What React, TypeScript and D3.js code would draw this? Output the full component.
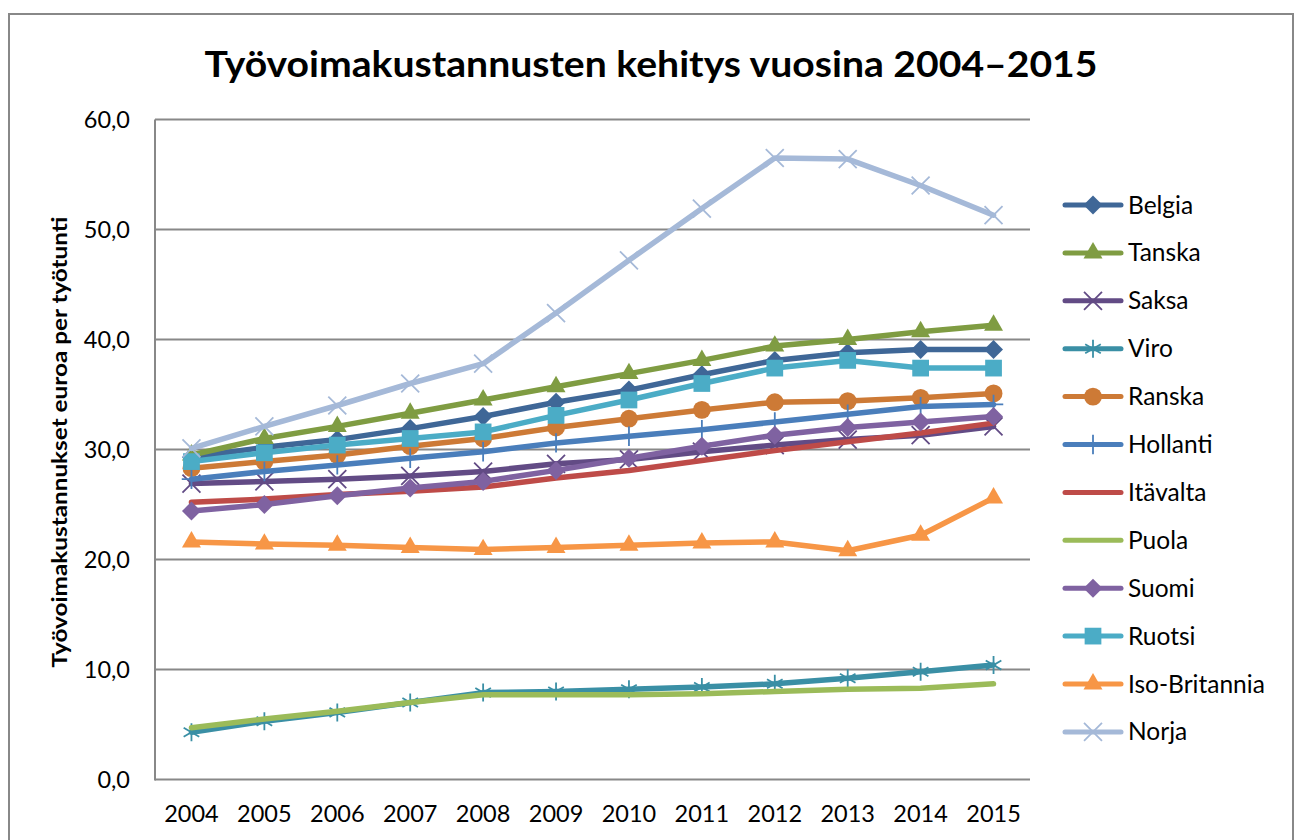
import React from 'react';
import * as d3 from 'd3';

// Labour cost per working hour (euro)
const years = ['2004', '2005', '2006', '2007', '2008', '2009', '2010', '2011', '2012', '2013', '2014', '2015'];
const yTicks = [0, 10, 20, 30, 40, 50, 60];

const belgia = [29.3, 30.2, 30.9, 31.9, 33.0, 34.3, 35.4, 36.8, 38.1, 38.8, 39.1, 39.1];
const tanska = [29.5, 31.0, 32.1, 33.3, 34.5, 35.7, 36.9, 38.1, 39.4, 40.0, 40.7, 41.3];
const saksa = [26.9, 27.1, 27.3, 27.6, 28.0, 28.7, 29.1, 29.8, 30.4, 30.9, 31.3, 32.1];
const viro = [4.3, 5.3, 6.1, 7.0, 7.9, 8.0, 8.2, 8.4, 8.7, 9.2, 9.8, 10.4];
const ranska = [28.3, 28.9, 29.5, 30.3, 31.0, 32.0, 32.8, 33.6, 34.3, 34.4, 34.7, 35.1];
const hollanti = [27.3, 28.0, 28.6, 29.2, 29.8, 30.6, 31.2, 31.8, 32.5, 33.2, 33.9, 34.1];
const itavalta = [25.2, 25.5, 25.9, 26.2, 26.6, 27.4, 28.1, 29.0, 29.9, 30.7, 31.5, 32.4];
const puola = [4.7, 5.5, 6.2, 7.0, 7.7, 7.7, 7.7, 7.8, 8.0, 8.2, 8.3, 8.7];
const suomi = [24.4, 25.0, 25.8, 26.5, 27.1, 28.1, 29.2, 30.3, 31.3, 32.0, 32.5, 33.0];
const ruotsi = [28.9, 29.7, 30.4, 31.0, 31.6, 33.1, 34.5, 36.0, 37.4, 38.1, 37.4, 37.4];
const isoBritannia = [21.6, 21.4, 21.3, 21.1, 20.9, 21.1, 21.3, 21.5, 21.6, 20.8, 22.2, 25.6];
const norja = [30.1, 32.1, 34.0, 36.0, 37.8, 42.4, 47.2, 51.9, 56.5, 56.4, 54.0, 51.3];

type Marker = 'diamond' | 'triangle' | 'times' | 'asterisk' | 'circle' | 'plus' | 'square' | 'none';

const series: { name: string; values: number[]; color: string; marker: Marker }[] = [
  { name: 'Belgia', values: belgia, color: '#3F6797', marker: 'diamond' },
  { name: 'Tanska', values: tanska, color: '#7F9C42', marker: 'triangle' },
  { name: 'Saksa', values: saksa, color: '#624B85', marker: 'times' },
  { name: 'Viro', values: viro, color: '#3A8FA5', marker: 'asterisk' },
  { name: 'Ranska', values: ranska, color: '#CD7A36', marker: 'circle' },
  { name: 'Hollanti', values: hollanti, color: '#4A7EBB', marker: 'plus' },
  { name: 'Itävalta', values: itavalta, color: '#BE4B48', marker: 'none' },
  { name: 'Puola', values: puola, color: '#9BBB59', marker: 'none' },
  { name: 'Suomi', values: suomi, color: '#7F62A1', marker: 'diamond' },
  { name: 'Ruotsi', values: ruotsi, color: '#4BACC6', marker: 'square' },
  { name: 'Iso-Britannia', values: isoBritannia, color: '#F79646', marker: 'triangle' },
  { name: 'Norja', values: norja, color: '#A5B9D8', marker: 'times' },
];

const FONT = 'Lato, "Open Sans", sans-serif';
const plot = { left: 155, right: 1030, top: 119.5, bottom: 779.5 };

const x = d3.scaleBand<string>().domain(years).range([plot.left, plot.right]);
const y = d3.scaleLinear().domain([0, 60]).range([plot.bottom, plot.top]);
const cx = (yr: string) => (x(yr) as number) + x.bandwidth() / 2;
const fmt = (v: number) => d3.format('.1f')(v).replace('.', ',');

const symbolPaths: Record<string, string> = {
  diamond: d3.symbol(d3.symbolSquare, 180)() as string,
  triangle: d3.symbol(d3.symbolTriangle, 156)() as string,
  times: d3.symbol(d3.symbolTimes, 212)() as string,
  asterisk: d3.symbol(d3.symbolAsterisk, 229)() as string,
  circle: d3.symbol(d3.symbolCircle, 250)() as string,
  plus: d3.symbol(d3.symbolPlus, 125)() as string,
  square: d3.symbol(d3.symbolSquare, 280)() as string,
};

function MarkerShape({ kind, color, tx, ty }: { kind: Marker; color: string; tx: number; ty: number }) {
  if (kind === 'none') return null;
  const stroked = kind === 'times' || kind === 'asterisk' || kind === 'plus';
  const rot = kind === 'diamond' ? ' rotate(45)' : '';
  return (
    <path
      d={symbolPaths[kind]}
      transform={`translate(${tx},${ty})${rot}`}
      fill={stroked ? 'none' : color}
      stroke={color}
      strokeWidth={stroked ? 1.8 : 0}
    />
  );
}

export default function App() {
  const line = d3
    .line<number>()
    .x((_, i) => cx(years[i]))
    .y((d) => y(d));

  const legendX = 1065;
  const legendY0 = 205;
  const legendStep = 47.9;

  return (
    <svg
      width={1300}
      height={840}
      style={{ position: 'absolute', left: 0, top: 0, background: '#fff' }}
    >
      <rect x={0} y={0} width={1300} height={840} fill="#fff" />
      {/* chart border */}
      <rect x={9} y={14} width={1284} height={860} fill="none" stroke="#888" strokeWidth={2} />

      <text
        x={651}
        y={77}
        textAnchor="middle"
        fontFamily={FONT}
        fontWeight="bold"
        fontSize={37}
        textLength={893}
        lengthAdjust="spacingAndGlyphs"
        fill="#000"
      >
        Työvoimakustannusten kehitys vuosina 2004–2015
      </text>

      {/* gridlines */}
      {yTicks.map((t) => (
        <g key={t}>
          <line x1={plot.left} x2={plot.right} y1={y(t)} y2={y(t)} stroke="#888" strokeWidth={2} />
          <text x={130} y={y(t) + 8.5} textAnchor="end" fontFamily={FONT} fontSize={23.5} fill="#000">
            {fmt(t)}
          </text>
        </g>
      ))}
      <line x1={plot.left} x2={plot.left} y1={plot.top} y2={plot.bottom + 1} stroke="#888" strokeWidth={2} />

      {years.map((yr) => (
        <text key={yr} x={cx(yr)} y={822} textAnchor="middle" fontFamily={FONT} fontSize={23.5} fill="#000">
          {yr}
        </text>
      ))}

      <text
        transform="translate(67,442) rotate(-90)"
        textAnchor="middle"
        fontFamily={FONT}
        fontWeight="bold"
        fontSize={21.5}
        textLength={451}
        lengthAdjust="spacingAndGlyphs"
        fill="#000"
      >
        Työvoimakustannukset euroa per työtunti
      </text>

      {/* series */}
      {series.map((s) => (
        <g key={s.name}>
          <path
            d={line(s.values) as string}
            fill="none"
            stroke={s.color}
            strokeWidth={5.5}
            strokeLinejoin="round"
            strokeLinecap="round"
          />
          {s.values.map((v, i) => (
            <MarkerShape key={i} kind={s.marker} color={s.color} tx={cx(years[i])} ty={y(v)} />
          ))}
        </g>
      ))}

      {/* legend */}
      {series.map((s, i) => {
        const ly = legendY0 + i * legendStep;
        return (
          <g key={s.name}>
            <line x1={legendX} x2={legendX + 56} y1={ly} y2={ly} stroke={s.color} strokeWidth={5} strokeLinecap="round" />
            <MarkerShape kind={s.marker} color={s.color} tx={legendX + 28} ty={ly} />
            <text x={legendX + 63} y={ly + 8.5} fontFamily={FONT} fontSize={24.5} fill="#000">
              {s.name}
            </text>
          </g>
        );
      })}
    </svg>
  );
}
